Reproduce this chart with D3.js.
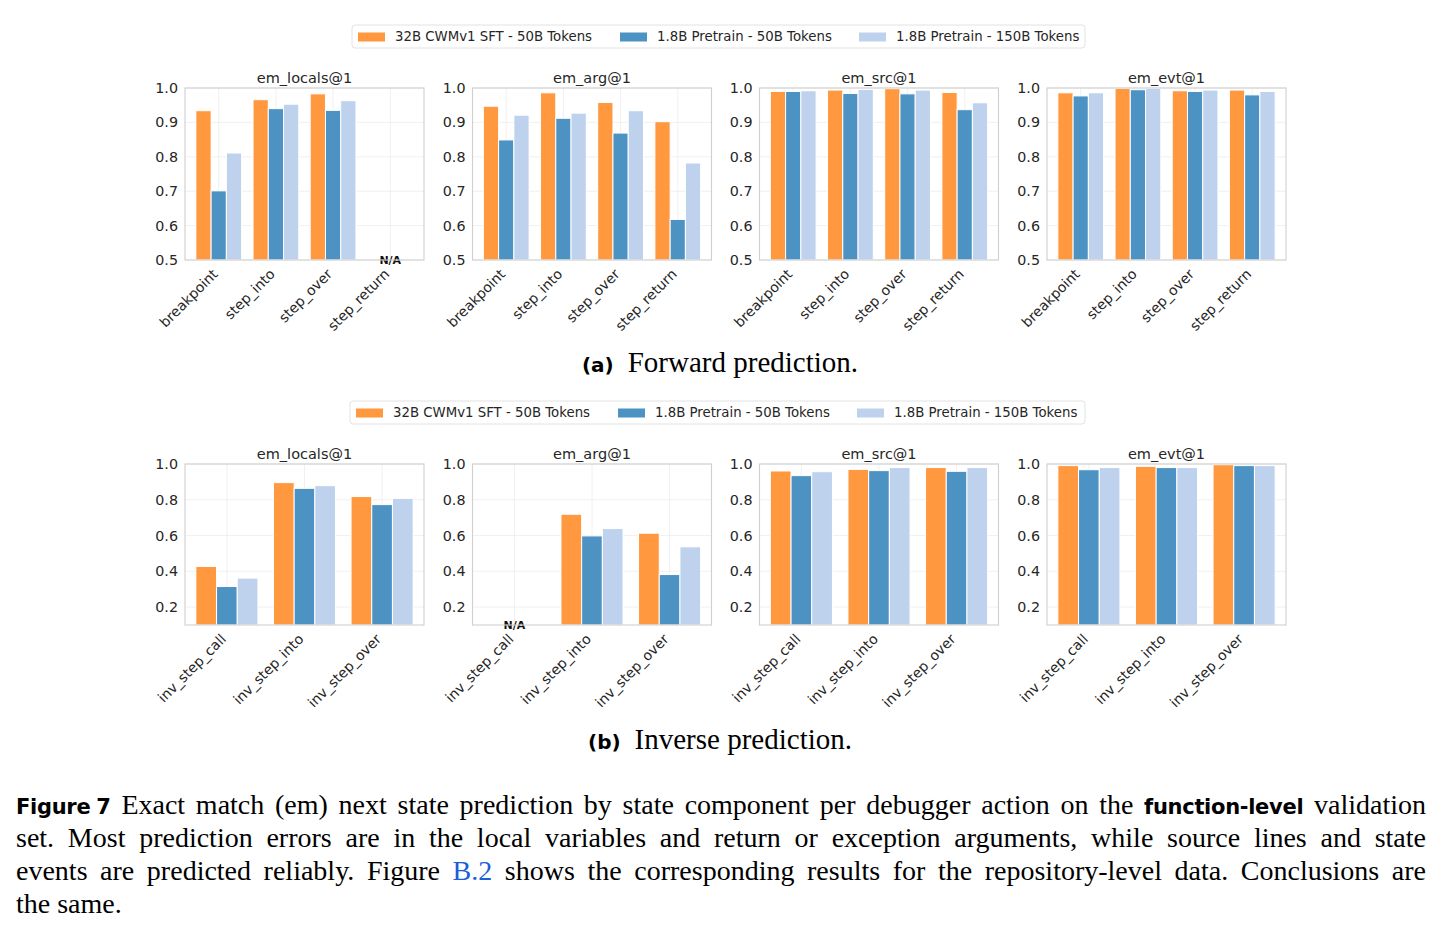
<!DOCTYPE html>
<html>
<head>
<meta charset="utf-8">
<script src="https://cdn.jsdelivr.net/npm/d3@7"></script>
<style>
  body { margin: 0; background: #fff; }
  #wrap { position: relative; width: 1442px; height: 932px; }
  svg { position: absolute; left: 0; top: 0; }
  .caption { position: absolute; left: 16px; width: 1410px; font-family: "Liberation Serif", serif; font-size: 28px; color: #000; }
  .caption div { height: 33px; line-height: 33px; text-align: justify; text-align-last: justify; white-space: nowrap; }
  .caption div.last { text-align-last: left; }
  .caption b { font-family: "DejaVu Sans", sans-serif; font-size: 21px; font-weight: bold; letter-spacing: -0.3px; }
  .caption .ref { color: #1a5fd6; }
</style>
</head>
<body>
<div id="wrap">
  <div id="chart"></div>
  <div class="caption" style="top:788px">
    <div><b>Figure<span style="margin-left:6px"></span>7</b> Exact match (em) next state prediction by state component per debugger action on the <b>function-level</b> validation</div>
    <div>set. Most prediction errors are in the local variables and return or exception arguments, while source lines and state</div>
    <div>events are predicted reliably. Figure <span class="ref">B.2</span> shows the corresponding results for the repository-level data. Conclusions are</div>
    <div class="last">the same.</div>
  </div>
</div>
<script>
// categories
const metrics = ["em_locals@1", "em_arg@1", "em_src@1", "em_evt@1"];
const fwdActions = ["breakpoint", "step_into", "step_over", "step_return"];
const invActions = ["inv_step_call", "inv_step_into", "inv_step_over"];
const seriesNames = ["32B CWMv1 SFT - 50B Tokens", "1.8B Pretrain - 50B Tokens", "1.8B Pretrain - 150B Tokens"];
const seriesColors = ["#ff983e", "#4c92c3", "#bed2ed"];

// forward prediction, [metric][action], null = N/A
const fwdCwm    = [[0.934, 0.966, 0.983, null], [0.947, 0.986, 0.958, 0.902], [0.990, 0.994, 0.998, 0.987], [0.986, 0.999, 0.992, 0.994]];
const fwdPre50  = [[0.701, 0.940, 0.935, null], [0.849, 0.912, 0.869, 0.618], [0.990, 0.984, 0.983, 0.937], [0.977, 0.995, 0.990, 0.980]];
const fwdPre150 = [[0.811, 0.953, 0.963, null], [0.921, 0.927, 0.934, 0.782], [0.992, 0.996, 0.994, 0.957], [0.986, 0.999, 0.994, 0.990]];

// inverse prediction
const invCwm    = [[0.427, 0.896, 0.818], [null, 0.719, 0.613], [0.961, 0.970, 0.980], [0.991, 0.987, 0.996]];
const invPre50  = [[0.315, 0.864, 0.773], [null, 0.598, 0.382], [0.935, 0.963, 0.959], [0.968, 0.980, 0.991]];
const invPre150 = [[0.362, 0.879, 0.808], [null, 0.639, 0.537], [0.957, 0.980, 0.980], [0.980, 0.980, 0.991]];

const fwdTicks = [0.5, 0.6, 0.7, 0.8, 0.9, 1.0];
const invTicks = [0.2, 0.4, 0.6, 0.8, 1.0];

const W = 1442, H = 932;
const panelLefts = [185, 472.5, 759.5, 1047];
const panelW = 239;

const svg = d3.select("#chart").append("svg")
    .attr("width", W)
    .attr("height", H)
    .style("font-family", "'DejaVu Sans', sans-serif");

function drawLegend(x, y, w, h) {
    const g = svg.append("g").attr("transform", `translate(${x},${y})`);
    g.append("rect")
        .attr("width", w).attr("height", h)
        .attr("rx", 3)
        .attr("fill", "#fff")
        .attr("stroke", "#e2e2e2");
    const offs = [6, 268, 507];
    seriesNames.forEach((s, i) => {
        g.append("rect")
            .attr("x", offs[i]).attr("y", h / 2 - 4)
            .attr("width", 27).attr("height", 9)
            .attr("fill", seriesColors[i]);
        g.append("text")
            .attr("x", offs[i] + 37).attr("y", h / 2 + 4.5)
            .attr("font-size", 13.3)
            .attr("fill", "#262626")
            .text(s);
    });
}

function drawRow(actions, series, yDomain, yTicks, top, bottom) {
    const n = actions.length;
    // matplotlib default 5% margins around the bar extent
    const span = (n - 1) + 0.8;
    const pad = 0.05 * span;
    metrics.forEach((m, mi) => {
        const left = panelLefts[mi];
        const x = d3.scaleLinear().domain([-0.4 - pad, n - 1 + 0.4 + pad]).range([left, left + panelW]);
        const y = d3.scaleLinear().domain(yDomain).range([bottom, top]);
        const g = svg.append("g");

        // grid
        g.selectAll(".hgrid").data(yTicks).join("line")
            .attr("x1", left).attr("x2", left + panelW)
            .attr("y1", d => y(d)).attr("y2", d => y(d))
            .attr("stroke", "#ececec").attr("stroke-width", 0.8);
        g.selectAll(".vgrid").data(actions).join("line")
            .attr("x1", (d, i) => x(i)).attr("x2", (d, i) => x(i))
            .attr("y1", top).attr("y2", bottom)
            .attr("stroke", "#ececec").attr("stroke-width", 0.8);

        // bars
        const bw = 0.8 / 3;
        series.forEach((arr, si) => {
            const vals = arr[mi].map((v, ai) => ({ v: v, ai: ai })).filter(d => d.v !== null);
            g.selectAll(".bar" + si).data(vals).join("rect")
                .attr("x", d => x(d.ai - 0.4 + si * bw))
                .attr("width", d => x(bw) - x(0))
                .attr("y", d => y(d.v))
                .attr("height", d => bottom - y(d.v))
                .attr("fill", seriesColors[si])
                .attr("stroke", "#fff")
                .attr("stroke-width", 1);
        });

        // N/A labels
        const na = actions.map((a, ai) => ai).filter(ai => series[0][mi][ai] === null);
        g.selectAll(".na").data(na).join("text")
            .attr("x", d => x(d))
            .attr("y", bottom)
            .attr("dy", "0.35em")
            .attr("text-anchor", "middle")
            .attr("font-size", 11)
            .attr("font-weight", "bold")
            .attr("fill", "#111")
            .text("N/A");

        // frame
        g.append("rect")
            .attr("x", left).attr("y", top)
            .attr("width", panelW).attr("height", bottom - top)
            .attr("fill", "none")
            .attr("stroke", "#cfcfcf").attr("stroke-width", 1.1);

        // y tick labels
        g.selectAll(".ytick").data(yTicks).join("text")
            .attr("x", left - 7)
            .attr("y", d => y(d))
            .attr("dy", "0.35em")
            .attr("text-anchor", "end")
            .attr("font-size", 14.3)
            .attr("fill", "#262626")
            .text(d3.format(".1f"));

        // x tick labels
        g.selectAll(".xtick").data(actions).join("text")
            .attr("transform", (d, i) => `translate(${x(i)},${bottom + 15}) rotate(-45)`)
            .attr("text-anchor", "end")
            .attr("font-size", 14)
            .attr("fill", "#262626")
            .text(d => d);

        // title
        g.append("text")
            .attr("x", left + panelW / 2)
            .attr("y", top - 5)
            .attr("text-anchor", "middle")
            .attr("font-size", 14.5)
            .attr("fill", "#262626")
            .text(m);
    });
}

function drawSubcaption(label, text, cy) {
    const t = svg.append("text")
        .attr("x", 720).attr("y", cy + 8)
        .attr("text-anchor", "middle");
    t.append("tspan")
        .attr("font-family", "'DejaVu Sans', sans-serif")
        .attr("font-weight", "bold")
        .attr("font-size", 20)
        .text(label);
    t.append("tspan")
        .attr("dx", 14)
        .attr("font-family", "'Liberation Serif', serif")
        .attr("font-size", 29)
        .text(text);
}

drawLegend(352, 25, 733, 23);
drawRow(fwdActions, [fwdCwm, fwdPre50, fwdPre150], [0.5, 1.0], fwdTicks, 88, 260);
drawSubcaption("(a)", "Forward prediction.", 364);

drawLegend(350, 401, 735, 23);
drawRow(invActions, [invCwm, invPre50, invPre150], [0.1, 1.0], invTicks, 464, 625);
drawSubcaption("(b)", "Inverse prediction.", 741);
</script>
</body>
</html>
